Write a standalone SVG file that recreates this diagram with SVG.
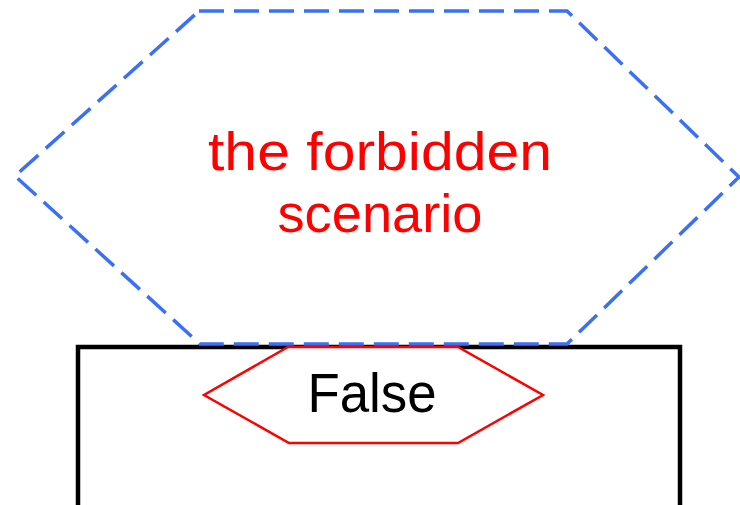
<svg xmlns="http://www.w3.org/2000/svg" width="740" height="505" viewBox="0 0 740 505">
  <style>
    .scenario { fill: none; stroke: #3b6ff5; stroke-width: 3.5; stroke-dasharray: 25 10; }
    .box { fill: #ffffff; stroke: #000000; stroke-width: 4.5; }
    .result { fill: #ffffff; stroke: #ff0000; stroke-width: 2.5; }
    .lbl { font-family: "Liberation Sans", Arial, sans-serif; text-anchor: middle; }
  </style>
  <rect width="740" height="505" fill="#ffffff"/>
  <g id="box">
    <rect class="box" x="78" y="347" width="602" height="180"/>
  </g>
  <g id="forbidden-scenario">
    <polygon class="scenario" points="199,11 567,11 739,177 567,344 200,344 15,176"/>
    <text class="lbl" x="380" y="170" font-size="54" fill="#ff0000" textLength="344" lengthAdjust="spacingAndGlyphs">the forbidden</text>
    <text class="lbl" x="380" y="232" font-size="54" fill="#ff0000" textLength="205" lengthAdjust="spacingAndGlyphs">scenario</text>
  </g>
  <g id="false-node">
    <polygon class="result" points="288,347 458,347 543,395 458,443 289,443 204,395"/>
    <text class="lbl" x="372" y="412" font-size="56" fill="#000000" textLength="129" lengthAdjust="spacingAndGlyphs">False</text>
  </g>
  <g id="connectors"/>
</svg>
